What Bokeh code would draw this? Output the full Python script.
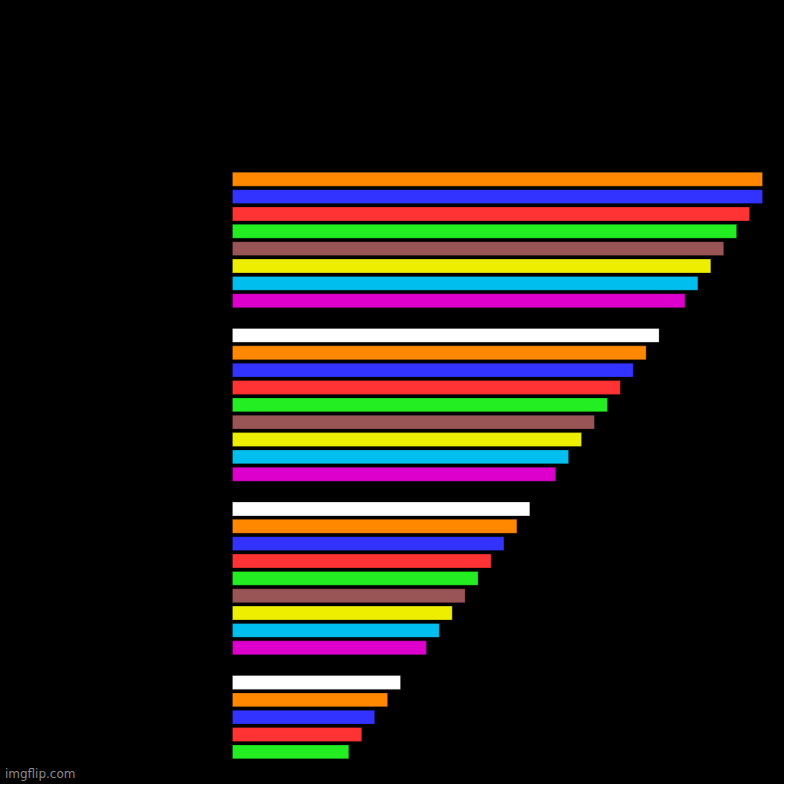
from bokeh.plotting import figure
from bokeh.models import ColumnDataSource, Range1d, Label
from bokeh.embed import file_html
from bokeh.resources import INLINE

# bar values, top to bottom
values = [41, 41, 40, 39, 38, 37, 36, 35, 34,
          33, 32, 31, 30, 29, 28, 27, 26, 25, 24,
          23, 22, 21, 20, 19, 18, 17, 16, 15, 14,
          13, 12, 11, 10, 9]

# colour cycle used by the bars (black ones vanish on the background)
palette = ["#ff8800", "#3333ff", "#ff3333", "#22ee22", "#995555",
           "#eeee00", "#00bfee", "#dd00cc", "#000000", "#ffffff"]

slots = list(range(len(values)))
colors = [palette[i % len(palette)] for i in slots]

source = ColumnDataSource(data=dict(y=slots, right=values, color=colors))

# the frame fills the whole canvas; the ranges leave the empty margins
p = figure(width=784, height=784,
           output_backend="svg", toolbar_location=None, tools="",
           x_range=Range1d(-17.94, 42.70), y_range=Range1d(34.88, -10.30),
           min_border=0)
p.styles = {"background-color": "black"}

p.hbar(y="y", right="right", left=0, height=0.8, source=source,
       fill_color="color", line_color="black", line_alpha=0.25, line_width=1)

p.background_fill_color = "black"
p.border_fill_color = "black"
p.outline_line_color = None
p.xaxis.visible = False
p.yaxis.visible = False
p.grid.grid_line_color = None

# watermark in the bottom left corner
p.add_layout(Label(x=-17.6, y=34.25, text="imgflip.com", text_color="#8a8a8a",
                   text_font="DejaVu Sans", text_font_size="12px",
                   text_baseline="alphabetic"))

open("out.html", "w").write(file_html(p, INLINE))
